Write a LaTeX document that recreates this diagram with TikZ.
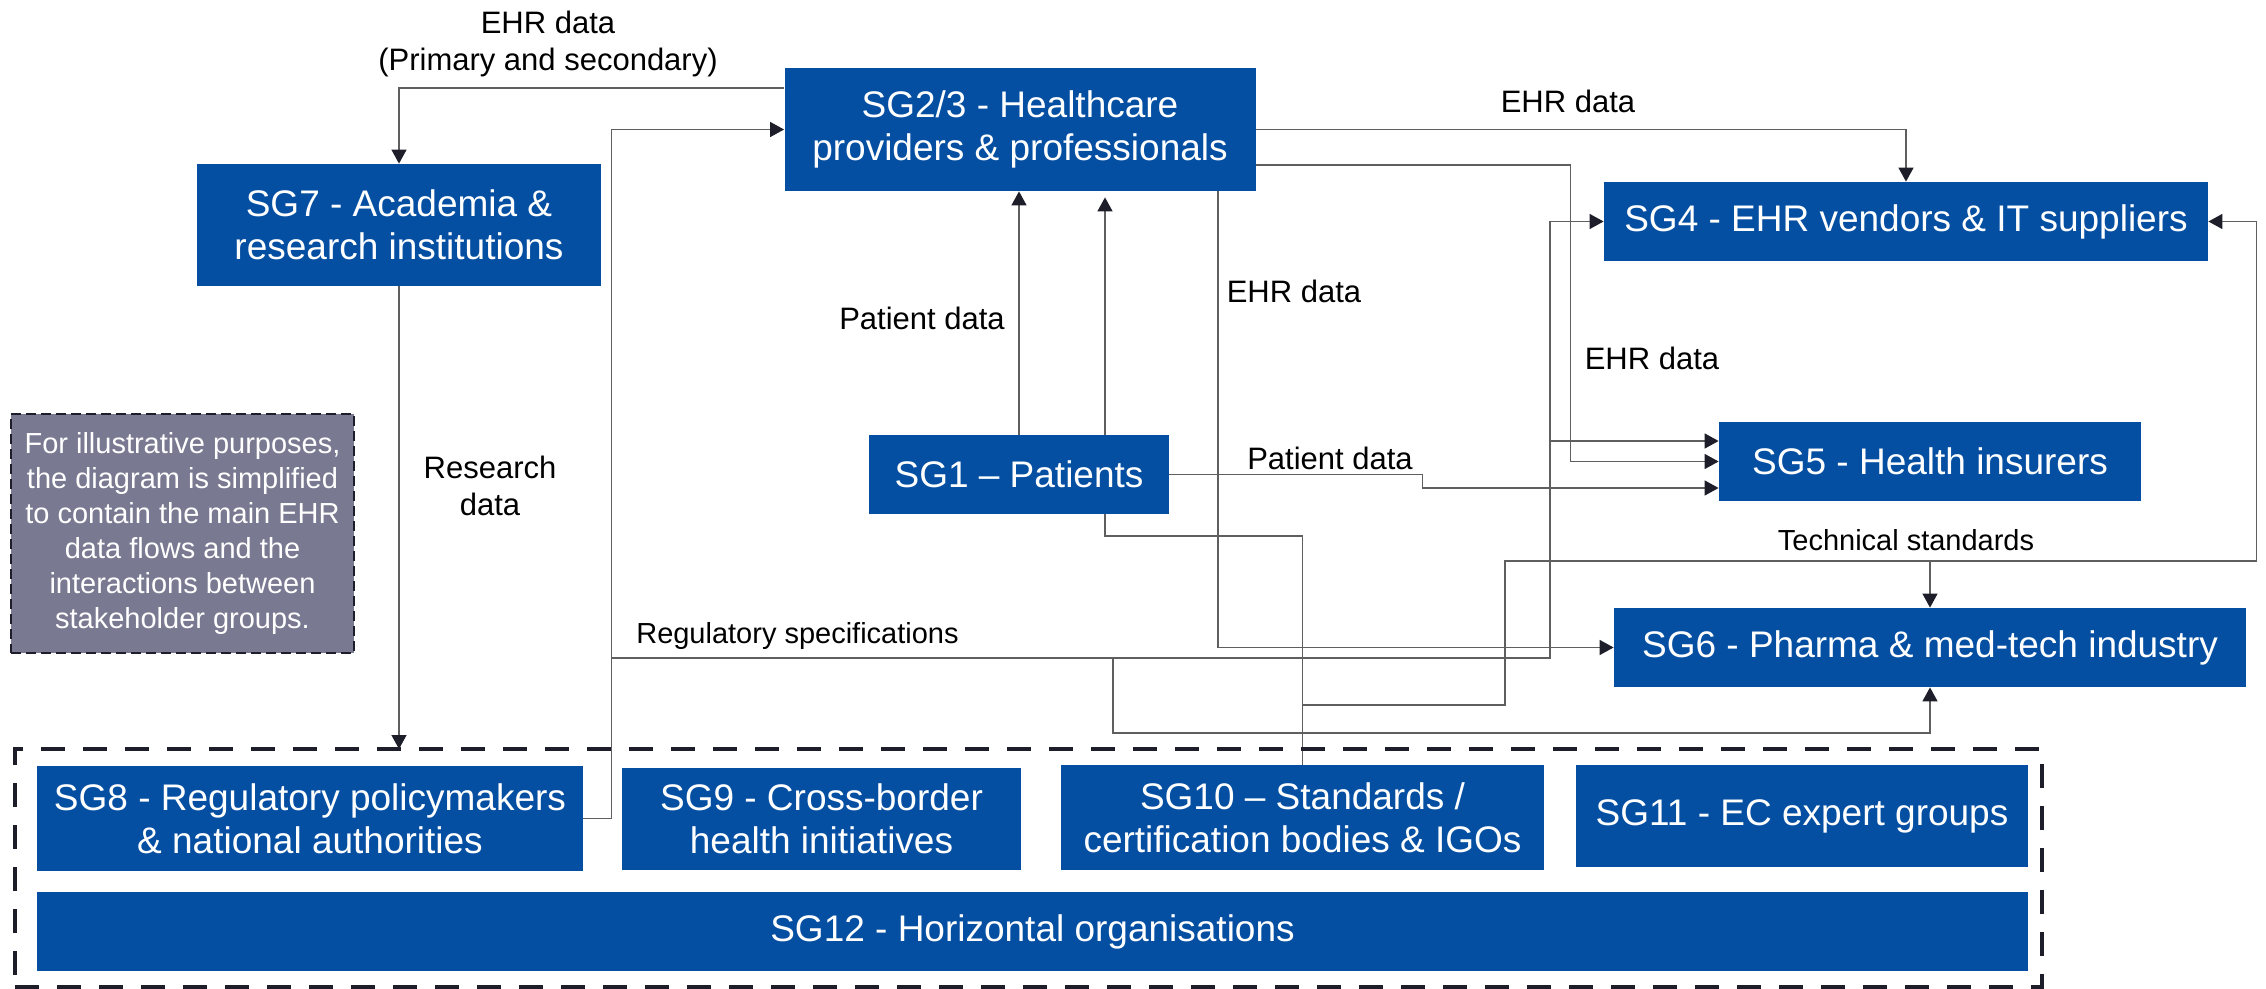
\documentclass[tikz,border=0pt]{standalone}
\usepackage{fontspec}
\setmainfont{Liberation Sans}
\usetikzlibrary{arrows.meta,backgrounds}
\definecolor{sgblue}{RGB}{5,79,163}
\definecolor{remarkgray}{RGB}{121,121,145}
\definecolor{wirecol}{RGB}{95,95,95}
\definecolor{tipcol}{RGB}{30,30,42}
\tikzstyle{sg}=[rectangle, fill=sgblue, text=white, align=center, inner sep=0pt, font=\fontsize{18.5}{21.5}\selectfont]
\tikzstyle{lbl}=[align=center, inner sep=0pt, font=\fontsize{15.5}{18.5}\selectfont]
\tikzstyle{lbls}=[lbl, font=\fontsize{14.5}{17}\selectfont]
\tikzstyle{remark}=[rectangle, fill=remarkgray, draw=tipcol, line width=1.2pt, dash pattern=on 5pt off 2.5pt, text=white, align=center, inner sep=0pt, font=\fontsize{14.5}{17.5}\selectfont]
\tikzstyle{grpbox}=[rectangle, draw=tipcol, line width=2.25pt, dash pattern=on 12pt off 9pt, outer sep=0pt]
\tikzstyle{flow}=[draw=wirecol, line width=0.7pt, -{Triangle[length=7pt,width=7.5pt,color=tipcol]}]

\begin{document}
\begin{tikzpicture}[x=0.5pt,y=-0.5pt]
\useasboundingbox (0,0) rectangle (2266,989);

\node[sg, minimum width=235.5pt, minimum height=61.5pt] (sg23) at (1020,129.5) {SG2/3 - Healthcare\\providers \& professionals};
\node[sg, minimum width=202pt, minimum height=61pt] (sg7) at (399,225) {SG7 - Academia \&\\research institutions};
\node[sg, minimum width=302pt, minimum height=39.5pt] (sg4) at (1906,221.5) {SG4 - EHR vendors \& IT suppliers};
\node[sg, minimum width=211pt, minimum height=39.5pt] (sg5) at (1930,461.5) {SG5 - Health insurers};
\node[sg, minimum width=316pt, minimum height=39.5pt] (sg6) at (1930,647.5) {SG6 - Pharma \& med-tech industry};
\node[sg, minimum width=150pt, minimum height=39.5pt] (sg1) at (1019,474.5) {SG1 – Patients};
\node[remark, minimum width=171.5pt, minimum height=119.5pt] (rem) at (182.5,533.5) {For illustrative purposes,\\the diagram is simplified\\to contain the main EHR\\data flows and the\\interactions between\\stakeholder groups.};

% stakeholder groups at the bottom
\node[grpbox, minimum width=1013.5pt, minimum height=119pt] (grp) at (1028.5,868) {};
\node[sg, minimum width=273pt, minimum height=52.5pt] (sg8) at (310,818.5) {SG8 - Regulatory policymakers\\\& national authorities};
\node[sg, minimum width=199.5pt, minimum height=51pt] (sg9) at (821.5,819) {SG9 - Cross-border\\health initiatives};
\node[sg, minimum width=241.5pt, minimum height=52.5pt] (sg10) at (1302.5,817.5) {SG10 – Standards /\\certification bodies \& IGOs};
\node[sg, minimum width=226pt, minimum height=51pt] (sg11) at (1802,816) {SG11 - EC expert groups};
\node[sg, minimum width=995.5pt, minimum height=39.5pt] (sg12) at (1032.5,931.5) {SG12 - Horizontal organisations};

\node[lbl] (lpri) at (548,43.5) {EHR data\\(Primary and secondary)};
\node[lbl, anchor=base] (lehra) at (1568,113) {EHR data};
\node[lbl, anchor=base] (lpata) at (922,330) {Patient data};
\node[lbl, anchor=base] (lehrb) at (1294,303) {EHR data};
\node[lbl, anchor=base] (lehrc) at (1652,370) {EHR data};
\node[lbl, anchor=base] (lpatb) at (1330,470) {Patient data};
\node[lbl] (lres) at (490,486) {Research\\data};
\node[lbls, anchor=base] (lreg) at (797.5,643) {Regulatory specifications};
\node[lbls, anchor=base] (ltech) at (1906,551) {Technical standards};

\coordinate (rs) at (611,658);
\coordinate (ru) at (1550,658);
\coordinate (rd) at (1113,658);
\coordinate (ts) at (1303,705);

\begin{scope}[on background layer]
% EHR data
\draw[flow] ([yshift=20.75pt]sg23.west) -| (sg7.north);
\draw[flow] (sg23.east) -| (sg4.north);
\draw[flow] ([yshift=-17.75pt]sg23.east) -| ([xshift=-74pt]sg5.west) -- (sg5.west);
\draw[flow] ([xshift=99pt]sg23.south) |- (sg6.west);
\draw[flow] (sg7.south) -- (sg7.south |- grp.north);
% patient data
\draw[flow] (sg1.north) -- (sg1.north |- sg23.south);
\draw[flow] (sg1.east) -- ++(253,0) |- ([yshift=-13.25pt]sg5.west);
% regulatory specifications
\draw[flow] (sg8.east) -- ++(28,0) |- (sg23.west);
\draw[flow] (rs) -| (ru |- sg4.west) -- (sg4.west);
\draw[flow] (ru |- 0,441) -- (sg5.west |- 0,441);
\draw[flow] (rd) |- (sg6.south |- 0,733) -- (sg6.south);
% technical standards
\draw[flow, shorten >=3pt] (sg10.north) -- (sg10.north |- 0,536) -| ([xshift=42.5pt]sg23.south);
\draw[flow] (ts) -| (1505,561) -| (sg6.north);
\draw[flow] (sg6.north |- 0,561) -| ([xshift=24pt]sg4.east) -- (sg4.east);
\end{scope}
\end{tikzpicture}
\end{document}
